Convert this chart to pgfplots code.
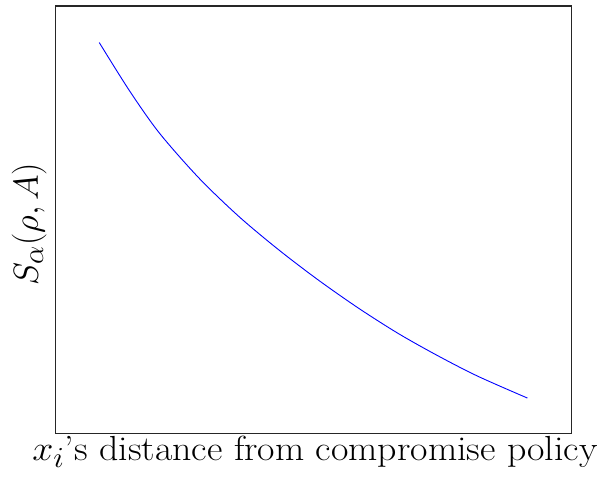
\documentclass[border=0pt]{standalone}
\usepackage{pgfplots}
\pgfplotsset{compat=1.18}
\usetikzlibrary{calc}
\begin{document}
\begin{tikzpicture}
\begin{axis}[
  scale only axis,
  width=518pt, height=430pt,
  xmin=56, xmax=574, ymin=0, ymax=430,
  xtick=\empty, ytick=\empty,
  axis line style={black!85, line width=1.1pt},
  xlabel={\scalebox{1.53}[1.407]{$x_i$'s distance from compromise policy}},
  ylabel={\scalebox{1.407}{$S_\alpha(\rho,A)$}},
  label style={font=\Huge},
  xlabel style={at={(axis description cs:0.503,0)}, anchor=base, yshift=-27pt},
  ylabel style={at={(axis description cs:0,0.49)}, anchor=base, yshift=18pt},
]
\addplot[blue, line width=0.9pt, smooth] coordinates {
(99.7,393.3) (130,345) (160,302.5) (200,257) (240,218.5) (280,185) (320,154.5)
(360,126.5) (400,101) (440,78.5) (480,58) (530,36)
};
\end{axis}
\path ($(current axis.south west)+(-56pt,-46pt)$) rectangle ($(current axis.north east)+(27pt,6pt)$);
\end{tikzpicture}
\end{document}
